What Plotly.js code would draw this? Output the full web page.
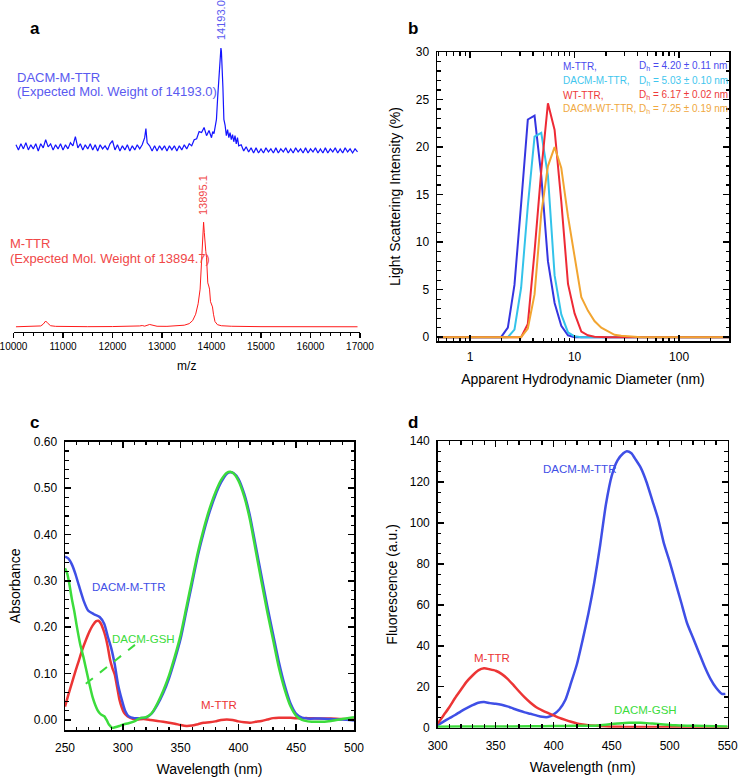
<!DOCTYPE html>
<html><head><meta charset="utf-8">
<script src="https://cdn.plot.ly/plotly-3.0.1.min.js"></script>
<style>html,body{margin:0;padding:0;background:#fff}</style>
</head><body><div id="chart" style="width:738px;height:780px"></div>
<script>
// ---------- Panel a : mass spectra ----------
const msBlueMz = [10050,10100,10150,10200,10250,10300,10350,10400,10450,10500,10550,10600,10650,10700,10750,10800,10850,10900,10950,11000,
11050,11100,11150,11200,11250,11300,11350,11400,11450,11500,11550,11600,11650,11700,11750,11800,11850,11900,11950,12000,
12050,12100,12150,12200,12250,12300,12350,12400,12450,12500,12550,12600,12650,12675,12700,12750,12800,12850,12900,12950,
13000,13050,13100,13150,13200,13250,13300,13350,13400,13450,13500,13550,13600,13650,13700,13750,13800,13850,13900,13950,
14000,14025,14050,14075,14100,14125,14150,14170,14190,14200,14215,14230,14250,14275,14300,14325,14350,14375,14400,14425,
14450,14475,14500,14525,14550,14600,14650,14700,14750,14800,14850,14900,14950,15000,15050,15100,15150,15200,15250,15300,
15350,15400,15450,15500,15550,15600,15650,15700,15750,15800,15850,15900,15950,16000,16050,16100,16150,16200,16250,16300,
16350,16400,16450,16500,16550,16600,16650,16700,16750,16800,16850,16900,16950];
const msBlueInt = [5,0,6,1,7,0,5,1,6,-1,6,2,10,3,6,0,5,1,6,0,
5,1,7,4,13,2,6,0,5,1,6,0,5,-1,5,1,4,0,6,9,
0,5,-1,4,0,5,-1,4,0,5,1,5,12,21,7,4,-1,4,-1,4,
0,4,-1,4,0,4,-1,4,0,5,1,6,4,10,11,18,17,22,14,19,
12,18,16,26,30,52,72,95,100,97,85,62,30,24,14,20,12,17,10,15,
8,14,6,12,4,5,-1,3,-2,2,-3,2,-3,1,-3,2,-2,1,-3,2,
-3,1,-2,2,-3,1,-3,2,-2,1,-3,2,-3,1,-2,2,-3,1,-3,2,
-3,1,-2,2,-3,1,-3,2,-2,1,-3,1,-2];

const msRedMz = [10050,10200,10400,10550,10600,10650,10700,10750,10850,11000,11500,12000,12400,12550,12600,12650,12750,12800,12900,13100,
13300,13450,13550,13620,13680,13730,13770,13790,13805,13825,13840,13855,13870,13885,13900,13915,13925,13945,13960,13980,
14000,14020,14040,14070,14120,14200,14400,14700,15000,16950];
const msRedInt = [0,0.3,0.2,0.8,2.5,5.5,3,1,0.4,0.2,0.1,0.2,0.3,0.8,1.2,0.6,2.2,1.5,0.5,0.4,
0.8,1.5,3,6,12,22,36,55,76,92,100,90,76,72,66,55,42,39,36,24,
22,19,12,5,2,1,0.5,0.3,0.1,0];

// ---------- Panel b : DLS ----------
const dlsDiameter = [0.5,1.0,1.5,1.98,2.30,2.66,3.08,3.57,4.14,4.80,5.56,6.44,7.46,8.65,10.0,11.6,13.4,15.5,18.0,20.8,24.1,27.9,32.3,37.4,43.3,60,100,200,300];
const dlsMTTR     = [0,0,0,0,1.0,5.5,14,22.9,23.3,17,8,3.6,1.2,0.2,0,0,0,0,0,0,0,0,0,0,0,0,0,0,0];
const dlsDACMMTTR = [0,0,0,0,0,0.8,5.2,13.8,21.1,21.5,17,6.5,2.4,0.5,0.1,0,0,0,0,0,0,0,0,0,0,0,0,0,0];
const dlsWTTTR    = [0,0,0,0,0,0,0,1.4,9,17.5,24.6,21.8,14.3,5.6,2.5,0.6,0.2,0.05,0,0,0,0,0,0,0,0,0,0,0];
const dlsDACMWT   = [0,0,0,0,0,0,0,0.9,4.5,13,18,20,17.8,12.7,8.6,4.2,2.8,1.7,1.0,0.6,0.25,0.15,0.1,0.05,0,0,0,0,0];
const dlsNames = ['M-TTR,','DACM-M-TTR,','WT-TTR,','DACM-WT-TTR,'];
const dlsDh = ['4.20 ± 0.11','5.03 ± 0.10','6.17 ± 0.02','7.25 ± 0.19'];

// ---------- Panel c : absorbance ----------
const absBlueWl = [250,253,256,259,262,266,270,275,280,284,287,290,293,296,299,302,305,310,315,320,325,330,335,340,345,350,355,360,365,370,375,380,385,390,393,396,400,405,410,415,420,425,430,435,440,445,450,455,460,470,480,490,500];
const absBlue   = [0.352,0.348,0.335,0.315,0.29,0.258,0.236,0.228,0.222,0.207,0.18,0.155,0.12,0.075,0.045,0.02,0.008,0.004,0.004,0.005,0.014,0.033,0.058,0.09,0.13,0.175,0.235,0.295,0.355,0.405,0.448,0.484,0.512,0.531,0.534,0.532,0.52,0.488,0.44,0.375,0.31,0.245,0.185,0.125,0.075,0.036,0.013,0.005,0.003,0.003,0.002,0.001,-0.001];
const absGreenWl = [250,252,254,256,258,260,263,266,270,274,278,281,284,286,288,291,294,297,300,305,310,315,320,323,326,330,335,340,345,350,355,360,365,370,375,380,385,390,393,396,400,405,410,415,420,425,430,435,440,445,450,455,460,470,480,490,500];
const absGreen   = [0.327,0.315,0.29,0.26,0.235,0.205,0.165,0.135,0.09,0.048,0.022,0.012,0.008,0.0,-0.01,-0.017,-0.015,-0.013,-0.01,-0.007,-0.003,0.004,0.006,0.01,0.018,0.036,0.063,0.096,0.137,0.183,0.243,0.303,0.362,0.412,0.455,0.49,0.517,0.533,0.535,0.531,0.516,0.482,0.432,0.365,0.298,0.233,0.173,0.113,0.066,0.03,0.009,0.0,-0.003,-0.004,-0.002,0.002,0.006];
const absRedWl = [250,253,256,259,262,265,268,271,274,277,279,281,283,285,287,289,291,293,295,297,299,301,304,308,312,318,324,330,335,340,345,350,355,360,365,370,375,380,385,390,395,400,405,410,415,420,425,430,435,440,445,450,460,470,480,490,500];
const absRed   = [0.029,0.055,0.08,0.105,0.128,0.152,0.172,0.19,0.204,0.213,0.214,0.208,0.196,0.18,0.158,0.13,0.112,0.098,0.072,0.045,0.028,0.016,0.008,0.003,0.001,0.002,0.0,-0.002,-0.004,-0.006,-0.008,-0.011,-0.013,-0.012,-0.009,-0.006,-0.005,-0.003,0.0,0.001,0.0,-0.003,-0.005,-0.006,-0.004,-0.002,0.001,0.004,0.005,0.005,0.005,0.004,0.004,0.003,0.003,0.002,0.001];

// ---------- Panel d : fluorescence ----------
const flBlueWl = [300,305,310,315,320,325,330,335,340,345,350,355,360,365,370,375,380,385,390,395,400,405,410,415,420,425,430,435,440,445,450,455,460,463,467,470,475,480,485,490,495,500,505,510,515,520,525,530,535,540,545,548];
const flBlue   = [1.3,3,4.6,6.2,8,9.6,11,12.2,12.5,12,11.7,11.2,10.4,9.4,8.4,7.5,6.8,6,5.3,5.2,6.5,9,13.5,22,31,43,56,71,89,109,123,130.5,134,135,134,131.5,127,120,111,102,90,81,71,61,51,44,37,30,24,19.5,16.5,16.5];
const flRedWl = [300,305,310,315,320,325,330,335,340,345,350,355,360,365,370,375,380,385,390,395,400,405,410,415,420,425,430,440,450,460,480,500,520,550];
const flRed   = [2,6,10,14.5,18.5,22.5,25.5,28,29,28.5,27.8,26.3,24,21,17.8,14.8,12.2,10,8.5,7.2,6,4.8,3.8,2.9,2.1,1.6,1.2,0.8,0.5,0.4,0.3,0.3,0.2,0.2];
const flGreenWl = [300,320,350,380,400,420,435,445,455,465,475,485,495,505,515,530,550];
const flGreen   = [0.5,0.6,0.6,0.7,0.8,0.9,1.0,1.5,2.0,2.4,2.4,2.0,1.6,1.2,1.0,0.8,0.6];

// ---------- helpers ----------
const W = 738, H = 780;
const P = px => px / W;
const Q = py => 1 - py / H;
const FONT = 'Liberation Sans, Arial, Helvetica, sans-serif';

const C = {
  aBlue:'#1414ff', aRed:'#ff1a1a', aBlueTxt:'#5a5af0', aRedTxt:'#f04848',
  bBlue:'#3535e0', bCyan:'#33c3ea', bRed:'#ee2a35', bOrange:'#f2a531',
  blue:'#3f4fe6', green:'#3cdc3c', red:'#ec3535'
};

function boxAxis(o, minorDtick, standoff) {
  return Object.assign({
    showline:true, linecolor:'black', linewidth:1.5, mirror:'allticks',
    ticks:'inside', ticklen:6, tickwidth:1.5, tickcolor:'black',
    showgrid:false, zeroline:false, ticklabeloverflow:'allow', ticklabelstandoff:standoff,
    tickfont:{family:FONT, size:12, color:'#000'},
    minor:{ticks:'inside', ticklen:3.5, tickwidth:1.2, tickcolor:'black', dtick:minorDtick, showgrid:false}
  }, o);
}

const traces = [
  {x:msBlueMz, y:msBlueInt, xaxis:'x', yaxis:'y2', mode:'lines', line:{color:C.aBlue, width:1.2}, hoverinfo:'skip'},
  {x:msRedMz, y:msRedInt, xaxis:'x', yaxis:'y', mode:'lines', line:{color:C.aRed, width:1}, hoverinfo:'skip'},
  {x:dlsDiameter, y:dlsMTTR, xaxis:'x2', yaxis:'y3', mode:'lines', line:{color:C.bBlue, width:2}},
  {x:dlsDiameter, y:dlsDACMMTTR, xaxis:'x2', yaxis:'y3', mode:'lines', line:{color:C.bCyan, width:2}},
  {x:dlsDiameter, y:dlsWTTTR, xaxis:'x2', yaxis:'y3', mode:'lines', line:{color:C.bRed, width:2}},
  {x:dlsDiameter, y:dlsDACMWT, xaxis:'x2', yaxis:'y3', mode:'lines', line:{color:C.bOrange, width:2}},
  {x:absRedWl, y:absRed, xaxis:'x3', yaxis:'y4', mode:'lines', line:{color:C.red, width:2.5, shape:'spline', smoothing:0.6}},
  {x:absBlueWl, y:absBlue, xaxis:'x3', yaxis:'y4', mode:'lines', line:{color:C.blue, width:2.5, shape:'spline', smoothing:0.6}},
  {x:absGreenWl, y:absGreen, xaxis:'x3', yaxis:'y4', mode:'lines', line:{color:C.green, width:2.5, shape:'spline', smoothing:0.6}},
  {x:flBlueWl, y:flBlue, xaxis:'x4', yaxis:'y5', mode:'lines', line:{color:C.blue, width:2.5, shape:'spline', smoothing:0.6}},
  {x:flRedWl, y:flRed, xaxis:'x4', yaxis:'y5', mode:'lines', line:{color:C.red, width:2.5, shape:'spline', smoothing:0.6}},
  {x:flGreenWl, y:flGreen, xaxis:'x4', yaxis:'y5', mode:'lines', line:{color:C.green, width:2.5, shape:'spline', smoothing:0.6}}
];

const titleFont = {family:FONT, size:14, color:'#000'};

const layout = {
  width:W, height:H, margin:{l:0,r:0,t:0,b:0}, showlegend:false,
  paper_bgcolor:'white', plot_bgcolor:'white',
  font:{family:FONT, color:'#000'},
  // panel a
  xaxis:{domain:[P(13.5),P(360)], anchor:'y', range:[10000,17000], dtick:1000, tick0:0, showline:true, linecolor:'black', linewidth:1,
    ticks:'outside', ticklen:5, tickwidth:1.2, tickcolor:'black', showgrid:false, zeroline:false,
    exponentformat:'none', tickformat:'d', ticklabeloverflow:'allow',
    tickfont:{family:FONT, size:10, color:'#000'},
    minor:{ticks:'outside', ticklen:3, tickwidth:1, tickcolor:'black', dtick:200, showgrid:false},
    title:{text:'m/z', font:{family:FONT, size:12, color:'#000'}, standoff:10}},
  yaxis:{domain:[Q(332),Q(217)], anchor:'x', range:[-5,105], showticklabels:false, showline:false, showgrid:false, zeroline:false, ticks:''},
  yaxis2:{domain:[Q(155),Q(43)], anchor:'x', range:[-5,105], showticklabels:false, showline:false, showgrid:false, zeroline:false, ticks:''},
  // panel b
  xaxis2:boxAxis({domain:[P(437),P(729)], anchor:'y3', type:'log', range:[Math.log10(0.483), Math.log10(300)], dtick:1,
    title:{text:'Apparent Hydrodynamic Diameter (nm)', font:titleFont, standoff:11}}, 'D1', 4),
  yaxis3:boxAxis({domain:[Q(341),Q(52)], anchor:'x2', range:[-0.4,30], dtick:5,
    title:{text:'Light Scattering Intensity (%)', font:titleFont, standoff:12}}, 1, 4),
  // panel c
  xaxis3:boxAxis({domain:[P(65),P(354)], anchor:'y4', range:[250,500], dtick:50,
    title:{text:'Wavelength (nm)', font:titleFont, standoff:10}}, 10, 6),
  yaxis4:boxAxis({domain:[Q(730),Q(441.7)], anchor:'x3', range:[-0.0216,0.6], dtick:0.1, tickformat:'.2f',
    title:{text:'Absorbance', font:titleFont, standoff:10}}, 0.02, 4),
  // panel d
  xaxis4:boxAxis({domain:[P(437.7),P(727.7)], anchor:'y5', range:[300,550], dtick:50,
    title:{text:'Wavelength (nm)', font:titleFont, standoff:10}}, 10, 6),
  yaxis5:boxAxis({domain:[Q(727.7),Q(441)], anchor:'x4', range:[0,140], dtick:20,
    title:{text:'Fluorescence (a.u.)', font:titleFont, standoff:9}}, 5, 4),
  shapes:[
    {type:'line', xref:'x3', yref:'y4', x0:268, y0:0.078, x1:310.5, y1:0.162, line:{color:C.green, width:2, dash:'dash'}}
  ],
  annotations:[]
};

function txt(text, px, py, o) {
  layout.annotations.push(Object.assign({text, xref:'paper', yref:'paper', x:P(px), y:Q(py), showarrow:false,
    xanchor:'left', yanchor:'middle', font:{family:FONT, size:11, color:'#000'}}, o || {}));
}
txt('<b>a</b>', 28, 29, {font:{family:FONT, size:17, color:'#000'}});
txt('<b>b</b>', 406, 29, {font:{family:FONT, size:17, color:'#000'}});
txt('<b>c</b>', 28, 422, {font:{family:FONT, size:17, color:'#000'}});
txt('<b>d</b>', 406, 422, {font:{family:FONT, size:17, color:'#000'}});
txt('DACM-M-TTR', 15, 78, {font:{family:FONT, size:13, color:C.aBlueTxt}});
txt('(Expected Mol. Weight of 14193.0)', 15, 91, {font:{family:FONT, size:13, color:C.aBlueTxt}});
txt('M-TTR', 8, 243, {font:{family:FONT, size:13, color:C.aRedTxt}});
txt('(Expected Mol. Weight of 13894.7)', 8, 259, {font:{family:FONT, size:13, color:C.aRedTxt}});
txt('14193.0', 221, 20, {textangle:-90, xanchor:'center', font:{family:FONT, size:11, color:C.aBlueTxt}});
txt('13895.1', 203, 195, {textangle:-90, xanchor:'center', font:{family:FONT, size:11, color:C.aRedTxt}});
const dlsTxtColors = ['#4a4aee','#3fc6ee','#ee3a3a','#f0a840'];
const legY = [66, 81, 95, 109];
dlsNames.forEach((n, i) => {
  txt(n, 561, legY[i], {font:{family:FONT, size:10, color:dlsTxtColors[i]}});
  txt('D<sub>h</sub> = ' + dlsDh[i] + ' nm', 637, legY[i], {font:{family:FONT, size:10, color:dlsTxtColors[i]}});
});
txt('DACM-M-TTR', 90, 587, {font:{family:FONT, size:11.5, color:C.blue}});
txt('DACM-GSH', 110, 639, {font:{family:FONT, size:11.5, color:C.green}});
txt('M-TTR', 199, 705, {font:{family:FONT, size:11.5, color:C.red}});
txt('DACM-M-TTR', 541, 469, {font:{family:FONT, size:11.5, color:C.blue}});
txt('M-TTR', 472, 658, {font:{family:FONT, size:11.5, color:C.red}});
txt('DACM-GSH', 612, 710, {font:{family:FONT, size:11.5, color:C.green}});

Plotly.newPlot('chart', traces, layout, {staticPlot:true, displayModeBar:false});
</script></body></html>
